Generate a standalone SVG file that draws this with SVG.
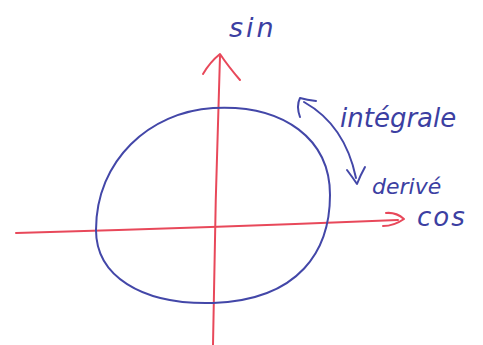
<svg xmlns="http://www.w3.org/2000/svg" width="483" height="345" viewBox="0 0 483 345">
<style>
.red{fill:none;stroke:#e8485a;stroke-width:2;stroke-linecap:round;stroke-linejoin:round}
.blue{fill:none;stroke:#4347a8;stroke-width:2;stroke-linecap:round;stroke-linejoin:round}
.lbl{fill:#3c3fa2;font-family:"DejaVu Sans",sans-serif;font-style:italic}
</style>
<rect width="483" height="345" fill="#fff"/>
<g id="connectors">
<path class="red" d="M16 233 Q200 228 398 220"/>
<path class="red" d="M386 213 Q396 212 404 219 Q394 226 383 226"/>
<path class="red" d="M213 345 Q215 200 220 56"/>
<path class="red" d="M203 74 Q210 62 220 54 Q228 66 240 80"/>
<path class="blue" d="M304 102 Q345 125 356 178"/>
<path class="blue" d="M300 117 Q296 106 300 98 Q307 100 316 101"/>
<path class="blue" d="M347 170 Q353 178 357 184 Q360 176 365 167"/>
</g>
<g id="circle">
<path class="blue" d="M213 108 C285 104 330 140 330 195 C330 250 300 300 213 303 C140 305 96 275 96 230 C96 160 150 112 213 108 Z"/>
</g>
<g id="sin"><text class="lbl" x="229" y="37" font-size="27" letter-spacing="3">sin</text></g>
<g id="integrale"><text class="lbl" x="340" y="127" font-size="26">intégrale</text></g>
<g id="derive"><text class="lbl" x="372" y="194" font-size="22">derivé</text></g>
<g id="cos"><text class="lbl" x="417" y="226" font-size="26" letter-spacing="2">cos</text></g>
</svg>
